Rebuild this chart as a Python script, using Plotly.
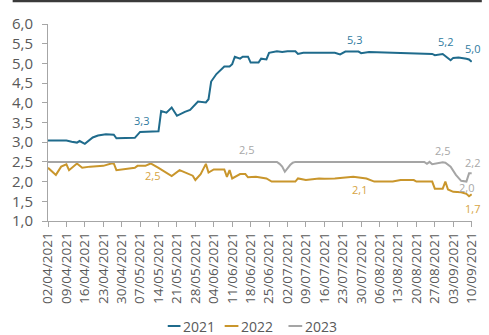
import plotly.graph_objects as go

# ---------------- data ----------------
dates_2021 = ["2021-04-02","2021-04-09","2021-04-11","2021-04-13","2021-04-14","2021-04-16","2021-04-19",
              "2021-04-21","2021-04-24","2021-04-27","2021-04-28","2021-05-05","2021-05-07","2021-05-13",
              "2021-05-14","2021-05-15","2021-05-17","2021-05-19","2021-05-21","2021-05-24","2021-05-26",
              "2021-05-29","2021-06-01","2021-06-02","2021-06-03","2021-06-05","2021-06-08","2021-06-10",
              "2021-06-11","2021-06-12","2021-06-14","2021-06-15","2021-06-17","2021-06-18","2021-06-21",
              "2021-06-22","2021-06-24","2021-06-25","2021-06-28","2021-06-30","2021-07-02","2021-07-05",
              "2021-07-06","2021-07-08","2021-07-16","2021-07-20","2021-07-22","2021-07-24","2021-07-29",
              "2021-07-30","2021-08-02","2021-08-10","2021-08-11","2021-08-26","2021-08-27","2021-08-30",
              "2021-08-31","2021-09-02","2021-09-03","2021-09-05","2021-09-08","2021-09-09","2021-09-10"]
values_2021 = [3.04,3.04,3.01,2.99,3.03,2.96,3.12,
               3.17,3.20,3.19,3.10,3.11,3.26,3.27,
               3.28,3.79,3.75,3.88,3.67,3.77,3.82,
               4.03,4.01,4.09,4.54,4.73,4.92,4.92,
               4.98,5.17,5.12,5.17,5.17,5.02,5.02,
               5.12,5.10,5.27,5.31,5.29,5.31,5.31,
               5.24,5.27,5.28,5.27,5.23,5.30,5.30,
               5.26,5.29,5.26,5.27,5.24,5.21,5.24,
               5.19,5.08,5.14,5.15,5.12,5.10,5.04]

dates_2022 = ["2021-04-02","2021-04-05","2021-04-07","2021-04-08","2021-04-09","2021-04-10","2021-04-13",
              "2021-04-15","2021-04-18","2021-04-23","2021-04-26","2021-04-27","2021-04-28","2021-05-05",
              "2021-05-06","2021-05-09","2021-05-11","2021-05-14","2021-05-16","2021-05-19","2021-05-22",
              "2021-05-26","2021-05-27","2021-05-28","2021-05-30","2021-06-01","2021-06-02","2021-06-04",
              "2021-06-08","2021-06-09","2021-06-10","2021-06-11","2021-06-14","2021-06-16","2021-06-17",
              "2021-06-20","2021-06-24","2021-06-26","2021-07-05","2021-07-06","2021-07-09","2021-07-14",
              "2021-07-16","2021-07-20","2021-07-27","2021-08-01","2021-08-04","2021-08-11","2021-08-14",
              "2021-08-19","2021-08-20","2021-08-26","2021-08-27","2021-08-30","2021-08-31","2021-09-01",
              "2021-09-03","2021-09-06","2021-09-08","2021-09-09","2021-09-10"]
values_2022 = [2.35,2.17,2.38,2.42,2.44,2.29,2.46,
               2.35,2.38,2.40,2.46,2.46,2.29,2.35,
               2.40,2.40,2.46,2.35,2.27,2.14,2.29,
               2.17,2.15,2.04,2.19,2.45,2.23,2.31,
               2.31,2.12,2.29,2.08,2.19,2.19,2.11,
               2.12,2.08,2.00,2.00,2.08,2.04,2.08,
               2.07,2.08,2.12,2.08,2.00,2.00,2.04,
               2.04,2.00,2.00,1.82,1.82,2.00,1.80,
               1.74,1.73,1.69,1.63,1.68]

dates_2023 = ["2021-04-02","2021-06-16","2021-06-28","2021-06-29","2021-06-30","2021-07-01","2021-07-02",
              "2021-07-03","2021-07-04","2021-07-05","2021-08-23","2021-08-24","2021-08-25","2021-08-26",
              "2021-08-30","2021-08-31","2021-09-02","2021-09-04","2021-09-06","2021-09-08","2021-09-09",
              "2021-09-10"]
values_2023 = [2.50,2.50,2.50,2.45,2.38,2.25,2.34,
               2.42,2.48,2.50,2.50,2.45,2.50,2.44,
               2.49,2.48,2.38,2.17,2.02,2.00,2.21,
               2.21]

series_names = ["2021", "2022", "2023"]
line_colors = ["#1f6b8c", "#c9962c", "#a5a5a5"]
label_colors = ["#2f7ba0", "#d6a443", "#a8a8a8"]

# data labels: (series index, date, text, xshift px, yshift px)
data_labels = [
    (0, "2021-05-07", "3,3", 1.6, 11.3),
    (0, "2021-07-29", "5,3", -4, 11.6),
    (0, "2021-08-31", "5,2", 0, 14),
    (0, "2021-09-10", "5,0", 1, 13),
    (1, "2021-05-11", "2,5", 1.6, -12),
    (1, "2021-07-27", "2,1", 6.5, -13),
    (1, "2021-09-10", "1,7", 1, -14),
    (2, "2021-06-16", "2,5", 1, 12),
    (2, "2021-08-30", "2,5", 0, 12),
    (2, "2021-09-10", "2,2", 1, 10.6),
    (2, "2021-09-08", "2,0", 0, -5.5),
]

# ---------------- layout constants ----------------
W, H = 489, 335
L, R, T, B = 48, 9, 24, 114
PW, PH = W - L - R, H - T - B

def px_x(px):
    return (px - L) / PW

def px_y(py):
    return (H - B - py) / PH

all_dates = [dates_2021, dates_2022, dates_2023]
all_values = [values_2021, values_2022, values_2023]

fig = go.Figure()
for name, d, v, c in zip(series_names, all_dates, all_values, line_colors):
    fig.add_trace(go.Scatter(x=d, y=v, mode="lines", name=name,
                             line=dict(color=c, width=2), showlegend=False))

annotations = []
for si, dt, txt, xs, ys in data_labels:
    yv = all_values[si][all_dates[si].index(dt)]
    annotations.append(dict(x=dt, y=yv, xref="x", yref="y", text=txt, showarrow=False,
                            xshift=xs, yshift=ys,
                            font=dict(family="Open Sans", size=11, color=label_colors[si])))

# legend (drawn manually to match compact look)
shapes = []
legend_dash = [(170, 183), (228, 242), (293, 307)]
legend_y = 326
for (x0, x1), name, c in zip(legend_dash, series_names, line_colors):
    shapes.append(dict(type="line", xref="paper", yref="paper",
                       x0=px_x(x0), x1=px_x(x1), y0=px_y(legend_y), y1=px_y(legend_y),
                       line=dict(color=c, width=2)))
    annotations.append(dict(x=px_x(x1 + 0.5), y=px_y(legend_y), xref="paper", yref="paper",
                            xanchor="left", yanchor="middle", text=name, showarrow=False,
                            font=dict(family="Open Sans", size=14, color="#595959")))

# top border
shapes.append(dict(type="line", xref="paper", yref="paper",
                   x0=px_x(12), x1=px_x(490), y0=px_y(1), y1=px_y(1),
                   line=dict(color="#3a3a3a", width=2.5)))

fig.update_layout(
    width=W, height=H,
    margin=dict(l=L, r=R, t=T, b=B),
    paper_bgcolor="white", plot_bgcolor="white",
    separators=",.",
    font=dict(family="Open Sans", color="#595959"),
    showlegend=False,
    annotations=annotations,
    shapes=shapes,
    xaxis=dict(type="date", range=["2021-04-02", "2021-09-10 03:00"],
               tick0="2021-04-02", dtick=7 * 86400000, tickformat="%d/%m/%Y",
               tickangle=-90, ticks="outside", ticklen=5, tickcolor="#a6a6a6",
               showline=True, linecolor="#a6a6a6", linewidth=1,
               showgrid=False, zeroline=False,
               tickfont=dict(family="Open Sans", size=13.5, color="#595959")),
    yaxis=dict(range=[1, 6], tick0=1, dtick=0.5, tickformat=".1f",
               ticks="outside", ticklen=5, tickcolor="#a6a6a6",
               showline=True, linecolor="#a6a6a6", linewidth=1,
               showgrid=False, zeroline=False, ticklabelstandoff=6,
               tickfont=dict(family="Open Sans", size=15, color="#595959")),
)

fig.write_html("out.html")
